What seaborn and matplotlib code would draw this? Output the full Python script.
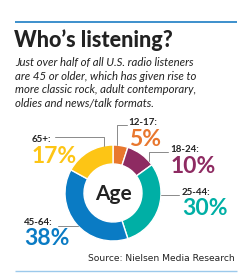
import matplotlib
matplotlib.use("Agg")
import matplotlib.pyplot as plt
import seaborn as sns

# ---- data ----
groups = ["12-17", "18-24", "25-44", "45-64", "65+"]
shares = [5, 10, 30, 38, 17]
colors = ["#E8772E", "#8E2B62", "#00AFA5", "#0A7BC4", "#FDC515"]

title = "Who\u2019s listening?"
subtitle = ["Just over half of all U.S. radio listeners",
            "are 45 or older, which has given rise to",
            "more classic rock, adult contemporary,",
            "oldies and news/talk formats."]
source = "Source: Nielsen Media Research"
center_label = "Age"

sns.set_style("white")
plt.rcParams['font.family'] = ['Lato', 'DejaVu Sans']

W, H = 251, 280
fig = plt.figure(figsize=(W / 100, H / 100), dpi=100)
ax = fig.add_axes([0, 0, 1, 1])
ax.set_xlim(0, W)
ax.set_ylim(0, H)
ax.set_aspect('equal')
ax.axis('off')


def Y(y):
    return H - y


# top & bottom rules
ax.plot([15, 237], [Y(21.5), Y(21.5)], color="#1B7DC4", lw=1.2, solid_capstyle='butt')
ax.plot([15, 237], [Y(271), Y(271)], color="#9CC9EB", lw=1.0, solid_capstyle='butt')

# title & subtitle
ax.text(14, Y(47), title, fontsize=15.5, fontweight='black', color="#222222",
        ha='left', va='baseline')
for i, line in enumerate(subtitle):
    ax.text(15, Y(66 + i * 13.7), line, fontsize=8.2, style='italic',
            color="#222222", ha='left', va='baseline')

# donut
cx, cy, R, w = 113, 193, 48, 19
ax.pie(shares, colors=colors, startangle=90, counterclock=False,
       center=(cx, Y(cy)), radius=R, frame=True,
       wedgeprops=dict(width=w, edgecolor='white', linewidth=1.0))
ax.set_xlim(0, W)
ax.set_ylim(0, H)
ax.axis('off')
ax.text(cx, Y(cy + 1), center_label, fontsize=15, fontweight='bold',
        color="#222222", ha='center', va='center')

# leader lines
lc = "#8A8A8A"
llw = 0.7
ax.plot([117.5, 117.5, 127], [Y(145), Y(125), Y(125)], color=lc, lw=llw)
ax.plot([149, 149, 168], [Y(161), Y(152), Y(152)], color=lc, lw=llw)
ax.plot([161, 179], [Y(195), Y(195)], color=lc, lw=llw)
ax.plot([58, 78], [Y(226.5), Y(226.5)], color=lc, lw=llw)
ax.plot([55, 104.5, 104.5], [Y(136.7), Y(136.7), Y(146)], color=lc, lw=llw)

# labels
label_pos = [(128, 125, 129, 146),
             (170, 152, 171, 173),
             (182, 195, 182, 215),
             (24, 225, 24, 245),
             (32, 142, 32, 163)]
for g, s, c, (lx, ly, px, py) in zip(groups, shares, colors, label_pos):
    ax.text(lx, Y(ly), g + ":", fontsize=7, fontweight='bold', color="#222222",
            ha='left', va='baseline')
    ax.text(px, Y(py), f"{s}%", fontsize=16.5, fontweight='bold', color=c,
            ha='left', va='baseline')

ax.text(235, Y(261), source, fontsize=6.6, color="#222222", ha='right',
        va='baseline', family=['Liberation Sans Narrow', 'DejaVu Sans'])

fig.savefig("out.png", dpi=100)
